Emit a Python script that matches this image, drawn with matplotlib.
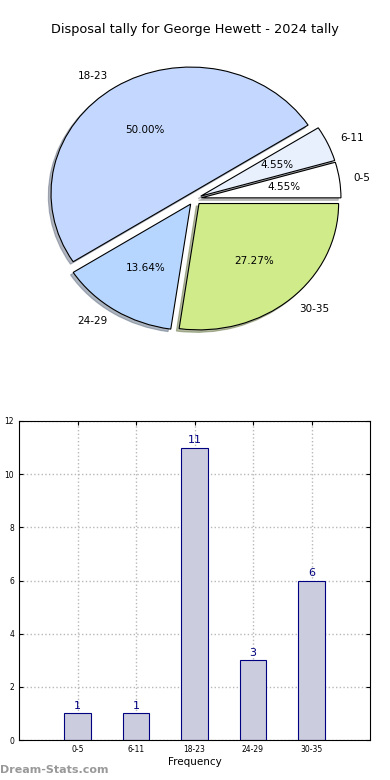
import matplotlib
matplotlib.use("Agg")
import matplotlib.pyplot as plt
import numpy as np

categories = ["0-5", "6-11", "18-23", "24-29", "30-35"]
disposals = [1, 1, 11, 3, 6]
pie_colors = ["#ffffff", "#e8f0fe", "#c4d8ff", "#b6d6ff", "#d0eb8a"]
title = "Disposal tally for George Hewett - 2024 tally"
y_ticks = [0, 2, 4, 6, 8, 10, 12]

fig = plt.figure(figsize=(3.9, 7.8), dpi=100)

# Pie chart
axp = fig.add_axes([0.051, 0.5427, 0.895, 0.405])
wedges, texts, autotexts = axp.pie(
    disposals, labels=categories, colors=pie_colors, explode=[0.05] * 5,
    autopct="%1.2f%%", shadow=dict(ox=-0.014, oy=-0.014, shade=0.5), startangle=0,
    wedgeprops=dict(edgecolor="black", linewidth=0.8),
    textprops=dict(fontsize=7.5, color="black"))
axp.set_xlim(-1.25, 1.25)
axp.set_ylim(-1.25, 1.25)
axp.set_aspect("auto")
fig.text(0.5, 1 - 30 / 780, title, ha="center", va="center", fontsize=9.3)

# Bar chart
axb = fig.add_axes([19 / 390, 1 - 740 / 780, (370 - 19) / 390, (740 - 421) / 780])
x = np.arange(len(categories))
bars = axb.bar(x, disposals, width=0.45, color="#ccccdf", edgecolor="#000080",
               linewidth=0.8, zorder=2)
for xi, v in zip(x, disposals):
    axb.text(xi, v + 0.1, str(v), ha="center", va="bottom", color="#000080", fontsize=8)
axb.set_xlim(-1, 5)
axb.set_ylim(0, 12)
axb.set_yticks(y_ticks)
axb.set_xticks(x)
axb.set_xticklabels(categories)
axb.tick_params(axis="both", labelsize=5.5, direction="in", top=True, right=True, length=3)
axb.grid(True, linestyle=":", color="#b8b8b8", linewidth=1, zorder=0)
axb.set_axisbelow(True)
axb.set_xlabel("Frequency", fontsize=7.5, labelpad=2)
axb.set_ylabel("Disposal Tally", fontsize=7.5)
axb.yaxis.set_label_coords(-0.05, 0.5)

fig.text(0.0, 1 - 770 / 780, "Dream-Stats.com", ha="left", va="center",
         fontsize=8, color="#999999", fontweight="bold")

fig.savefig("out.png", dpi=100)
